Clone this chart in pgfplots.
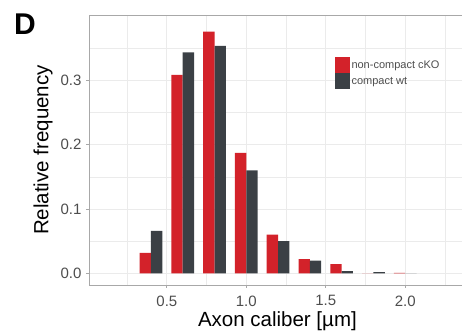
\documentclass[border=0pt]{standalone}
\usepackage{pgfplots}
\pgfplotsset{compat=1.18}
\usepackage{fontspec}
\setmainfont{Liberation Sans}
\definecolor{cko}{HTML}{D3222A}
\definecolor{wt}{HTML}{3B4045}
\definecolor{gridc}{HTML}{EBEBEB}
\definecolor{panel}{HTML}{A8A8A8}
\definecolor{tlab}{HTML}{4D4D4D}
\pgfplotstableread{
x red dark
0.4 0.032 0.066
0.6 0.308 0.343
0.8 0.375 0.353
1.0 0.187 0.160
1.2 0.060 0.050
1.4 0.022 0.020
1.6 0.0145 0.0036
1.8 0.0 0.002
2.0 0.0008 0.0
}\datatab
\begin{document}
\begin{tikzpicture}
\clip (-89pt,-51pt) rectangle (373pt,285pt);
\begin{axis}[
  scale only axis,
  width=387.7pt, height=270pt,
  xmin=0.01, xmax=2.45,
  ymin=-0.018, ymax=0.401,
  xtick={0.5,1.0,1.5,2.0},
  ytick={0,0.1,0.2,0.3},
  minor xtick={0.25,0.75,1.25,1.75,2.25},
  minor ytick={0.05,0.15,0.25,0.35},
  grid=both,
  major grid style={gridc, line width=0.8pt},
  minor grid style={gridc, line width=0.4pt},
  axis line style={panel, line width=0.8pt},
  tick align=outside,
  major tick length=3pt,
  minor tick length=0pt,
  tick style={panel, line width=0.8pt},
  xtick pos=bottom, ytick pos=left,
  /pgf/number format/assume math mode=true,
  /pgf/number format/.cd, fixed, fixed zerofill, precision=1, /pgfplots/.cd,
  ticklabel style={font=\fontsize{15}{18}\selectfont, text=tlab},
  xticklabel style={yshift=-4pt},
  yticklabel style={xshift=-1pt},
  xlabel={Axon caliber [µm]},
  ylabel={Relative frequency},
  xlabel style={font=\fontsize{20.5}{24}\selectfont, at={(axis description cs:0.486,-0.133)}, anchor=center},
  ylabel style={font=\fontsize{20.5}{24}\selectfont, at={(axis description cs:-0.1186,0.5)}, anchor=center},
  legend image code/.code={\fill[#1] (0pt,-8pt) rectangle (15pt,8pt);},
  legend style={at={(axis description cs:0.634,0.844)}, anchor=north west, draw=none, fill=none,
    font=\fontsize{11}{13}\selectfont, text=tlab, row sep=0pt, inner sep=0pt,
    nodes={inner sep=1.5pt}},
  legend cell align=left,
]
\addplot[ybar, bar width=0.0714, bar shift=-0.0357, fill=cko, draw=none] table[x=x, y=red] {\datatab};
\addlegendentry{non-compact cKO}
\addplot[ybar, bar width=0.0714, bar shift=0.0357, fill=wt, draw=none] table[x=x, y=dark] {\datatab};
\addlegendentry{compact wt}
\end{axis}
\node[anchor=north west, inner sep=0pt, font=\fontsize{30}{32}\selectfont\bfseries] at (-75pt,271pt) {D};
\end{tikzpicture}
\end{document}
